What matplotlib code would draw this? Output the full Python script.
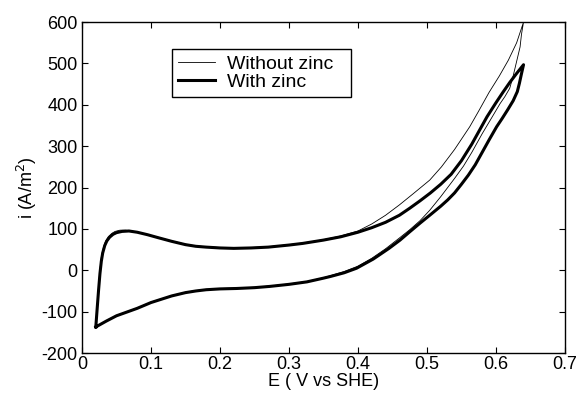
import matplotlib
matplotlib.use("Agg")
import matplotlib.pyplot as plt

plt.rcParams['font.family'] = ['Liberation Sans', 'DejaVu Sans']
plt.rcParams['axes.unicode_minus'] = False

# anodic (upper) and cathodic (lower) branches
# with zinc
E_up_zn = [0.02, 0.022, 0.024, 0.026, 0.028, 0.03, 0.033, 0.036, 0.04, 0.045, 0.05, 0.058,
           0.068, 0.08, 0.095, 0.11, 0.13, 0.15, 0.165, 0.18, 0.2, 0.22, 0.245, 0.27,
           0.3, 0.32, 0.35, 0.375, 0.4, 0.42, 0.44, 0.46, 0.475, 0.49, 0.505, 0.52,
           0.535, 0.55, 0.565, 0.575, 0.587, 0.6, 0.61, 0.62, 0.63, 0.64]
i_up_zn = [-137, -92, -48, -8, 22, 42, 60, 71, 80, 87, 91, 94, 95, 92, 86, 79, 70, 62,
           58, 56, 54, 53, 54, 56, 61, 65, 73, 81, 92, 103, 116, 133, 150, 168, 187, 208,
           232, 265, 305, 335, 371, 405, 430, 454, 476, 497]
E_dn_zn = [0.64, 0.637, 0.634, 0.631, 0.625, 0.617, 0.609, 0.601, 0.59, 0.58, 0.57, 0.56,
           0.55, 0.54, 0.53, 0.52, 0.504, 0.49, 0.475, 0.461, 0.445, 0.43, 0.422, 0.41,
           0.398, 0.38, 0.36, 0.35, 0.326, 0.3, 0.272, 0.25, 0.224, 0.2, 0.18, 0.165,
           0.15, 0.13, 0.115, 0.1, 0.08, 0.065, 0.05, 0.035, 0.02]
i_dn_zn = [497, 475, 452, 432, 410, 388, 367, 347, 315, 285, 255, 230, 208, 187, 170,
           155, 133, 114, 93, 73, 53, 36, 27, 16, 5, -6, -15, -19, -28, -34, -39, -42,
           -44, -45, -47, -50, -54, -62, -70, -78, -92, -101, -110, -123, -137]

# without zinc
E_up_no = [0.02, 0.022, 0.024, 0.026, 0.028, 0.031, 0.034, 0.038, 0.043, 0.048, 0.055,
           0.063, 0.075, 0.09, 0.11, 0.13, 0.15, 0.165, 0.18, 0.2, 0.22, 0.245, 0.27,
           0.3, 0.32, 0.35, 0.375, 0.4, 0.42, 0.44, 0.46, 0.48, 0.504, 0.521, 0.54,
           0.562, 0.575, 0.59, 0.605, 0.618, 0.63, 0.64]
i_up_no = [-137, -85, -38, 2, 32, 55, 70, 81, 89, 94, 97, 97, 94, 88, 80, 71, 63, 59,
           57, 55, 54, 55, 57, 62, 66, 74, 83, 95, 112, 133, 158, 185, 218, 250, 292,
           347, 385, 430, 470, 508, 550, 600]
E_dn_no = [0.64, 0.637, 0.635, 0.63, 0.625, 0.62, 0.613, 0.606, 0.595, 0.58, 0.565,
           0.553, 0.54, 0.52, 0.504, 0.49, 0.475, 0.46, 0.44, 0.42, 0.4, 0.38, 0.36,
           0.35, 0.326, 0.3, 0.272, 0.25, 0.224, 0.2, 0.18, 0.165, 0.15, 0.13, 0.115,
           0.1, 0.08, 0.065, 0.05, 0.035, 0.02]
i_dn_no = [600, 570, 540, 505, 470, 440, 420, 403, 372, 330, 285, 252, 222, 178, 145,
           120, 98, 78, 52, 29, 10, -3, -13, -18, -27, -33, -38, -41, -43, -44, -46,
           -49, -53, -61, -69, -77, -91, -100, -109, -122, -137]

fig = plt.figure(figsize=(5.8, 3.95), dpi=100)
ax = fig.add_axes([0.1414, 0.1063, 0.8326, 0.8377])

ax.plot(E_up_no + E_dn_no, i_up_no + i_dn_no, color='black', lw=0.6,
        solid_joinstyle='round', label='Without zinc')
ax.plot(E_up_zn + E_dn_zn, i_up_zn + i_dn_zn, color='black', lw=2.2,
        solid_joinstyle='round', label='With zinc')

ax.set_xlim(0, 0.7)
ax.set_ylim(-200, 600)
ax.set_xticks([0, 0.1, 0.2, 0.3, 0.4, 0.5, 0.6, 0.7])
ax.set_xticklabels(['0', '0.1', '0.2', '0.3', '0.4', '0.5', '0.6', '0.7'])
ax.set_yticks(range(-200, 601, 100))
ax.tick_params(direction='in', top=True, right=True, length=4, width=0.8,
               labelsize=13, pad=2)
ax.tick_params(axis='y', pad=3)
for s in ax.spines.values():
    s.set_linewidth(1.0)

ax.set_xlabel('E ( V vs SHE)', fontsize=13, labelpad=0)
ax.set_ylabel('i (A/m$^2$)', fontsize=13, labelpad=2)

leg = ax.legend(loc='upper left', bbox_to_anchor=(0.186, 0.767, 0.371, 0.151),
                mode='expand', fontsize=14, frameon=True, fancybox=False,
                edgecolor='black', framealpha=1, borderpad=0.3, labelspacing=0.05,
                handlelength=1.9, handletextpad=0.65, borderaxespad=0)
leg.get_frame().set_linewidth(1.0)

fig.savefig('out.png', dpi=100)
